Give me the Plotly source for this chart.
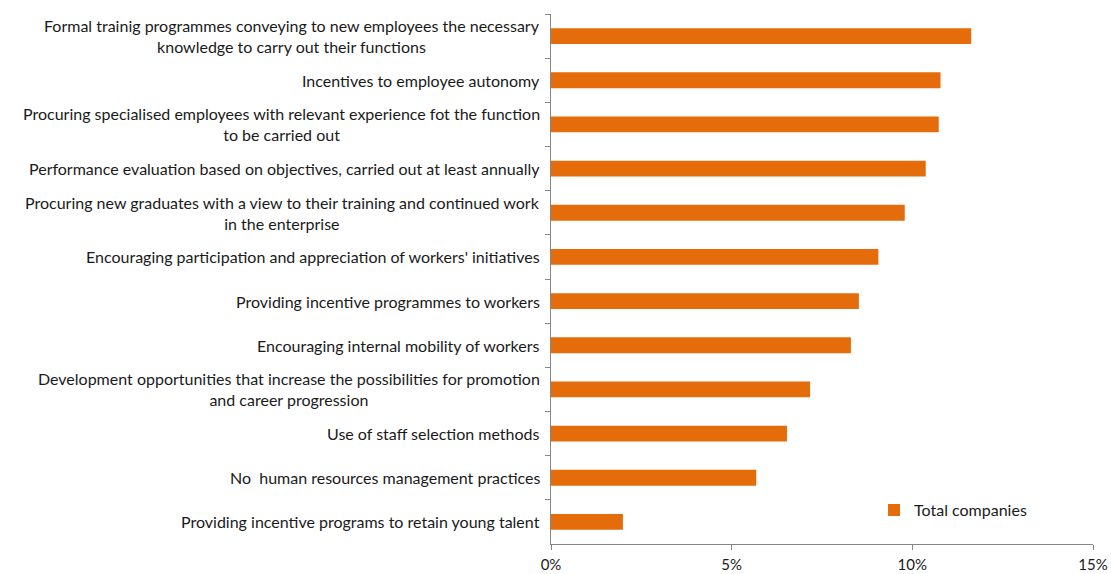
import plotly.graph_objects as go

categories = [
    "Formal trainig programmes conveying to new employees the necessary<br>knowledge to carry out their functions",
    "Incentives to employee autonomy",
    "Procuring specialised employees with relevant experience fot the function<br>to be carried out",
    "Performance evaluation based on objectives, carried out at least annually",
    "Procuring new graduates with a view to their training and continued work<br>in the enterprise",
    "Encouraging participation and appreciation of workers' initiatives",
    "Providing incentive programmes to workers",
    "Encouraging internal mobility of workers",
    "Development opportunities that increase the possibilities for promotion<br>and career progression",
    "Use of staff selection methods",
    "No  human resources management practices",
    "Providing incentive programs to retain young talent",
]
values = [11.63, 10.78, 10.73, 10.37, 9.79, 9.06, 8.52, 8.30, 7.17, 6.53, 5.68, 1.99]
series_name = "Total companies"
x_ticks = [0, 5, 10, 15]
x_tick_labels = ["0%", "5%", "10%", "15%"]

FONT = "Lato"
TXT = "#1a1a1a"

fig = go.Figure()
fig.add_trace(go.Bar(
    x=values, y=categories, orientation="h", name=series_name,
    marker=dict(color="#E46C0A", line=dict(width=0)),
))

for c in categories:
    fig.add_annotation(
        x=0, xref="paper", y=c, yref="y", text=c, showarrow=False,
        xanchor="right", yanchor="middle", align="center", xshift=-9,
        font=dict(family=FONT, size=16, color=TXT),
    )

fig.update_layout(
    width=1111, height=574,
    margin=dict(l=551, r=18, t=14, b=30),
    plot_bgcolor="white", paper_bgcolor="white",
    bargap=0.64,
    showlegend=True,
    legend=dict(x=0.596, y=0.064, xanchor="left", yanchor="middle",
                font=dict(family=FONT, size=16, color=TXT),
                bgcolor="rgba(0,0,0,0)"),
    font=dict(family=FONT, size=15, color=TXT),
)
fig.update_xaxes(
    range=[0, 15], tickvals=x_ticks, ticktext=x_tick_labels, automargin=False,
    showgrid=False, zeroline=False, showline=True, linecolor="#868686", linewidth=1,
    ticks="outside", ticklen=5, tickcolor="#868686", ticklabelstandoff=2,
    tickfont=dict(family=FONT, size=15, color=TXT),
)
fig.update_yaxes(
    autorange="reversed", showticklabels=False, tickson="boundaries", automargin=False,
    showgrid=False, zeroline=False, showline=True, linecolor="#868686", linewidth=1,
    ticks="outside", ticklen=5, tickcolor="#868686",
)

fig.write_html("out.html", config={"displayModeBar": False},
               post_script="document.body.style.margin='0';")
